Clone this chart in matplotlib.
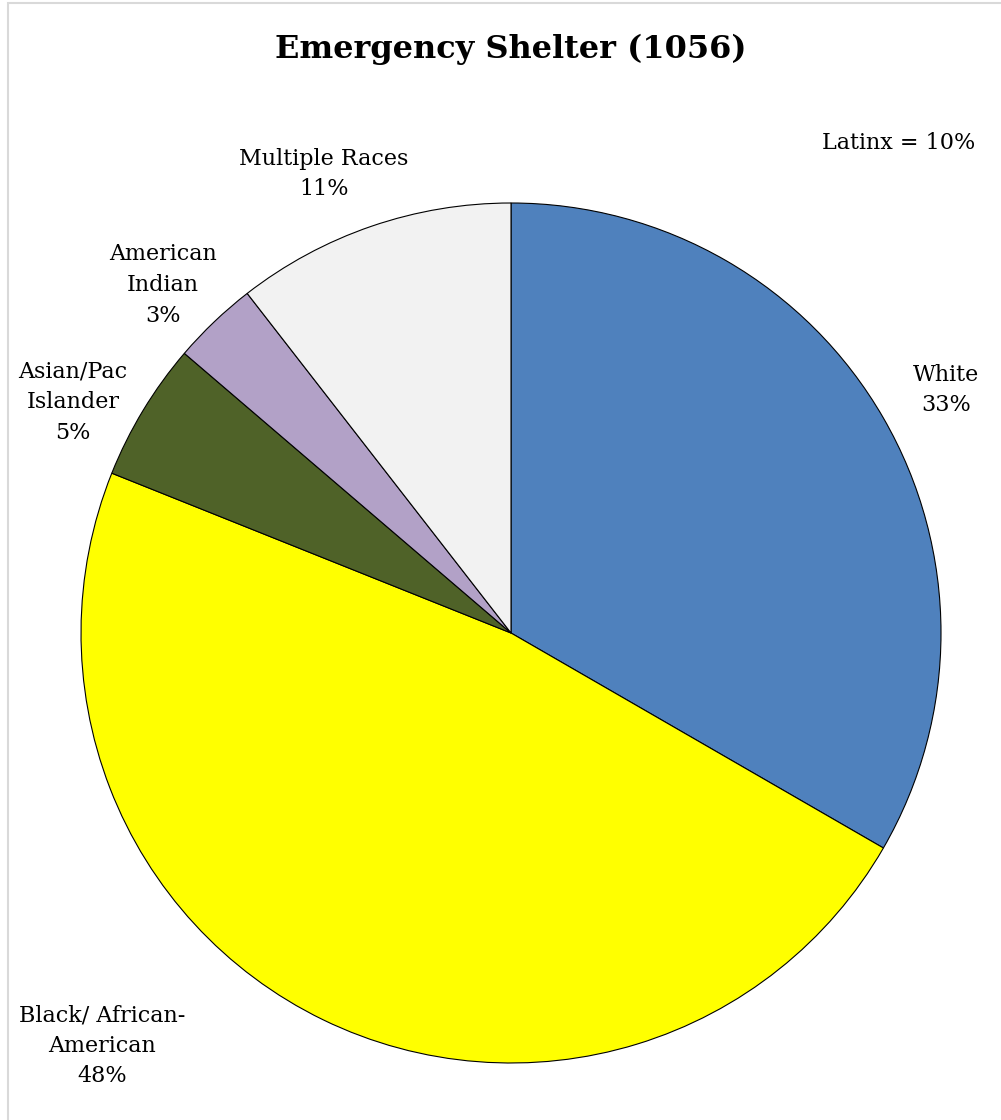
import matplotlib
matplotlib.use("Agg")
import matplotlib.pyplot as plt
from matplotlib.patches import Rectangle

# ---- data ----
categories = ["White", "Black/ African-\nAmerican", "Asian/Pac\nIslander", "American\nIndian", "Multiple Races"]
counts = [352, 504, 55, 34, 111]
colors = ["#4F81BD", "#FFFF00", "#4F6228", "#B2A1C7", "#F2F2F2"]
title = "Emergency Shelter (1056)"
latinx_note = "Latinx = 10%"
# label block centres in pixels (x, y from top)
label_pos = [(946, 390), (102, 1046), (73, 402), (163, 285), (324, 174)]

W, H = 1001, 1120
fig = plt.figure(figsize=(W / 100, H / 100), dpi=100)
fig.patch.set_facecolor("white")

font = "DejaVu Serif"

# chart border
fig.patches.append(Rectangle((8 / W, -0.1), 1.2, (H - 3) / H + 0.1, transform=fig.transFigure,
                             fill=False, edgecolor="#d9d9d9", linewidth=1.5))

cx, cy, r = 511, 633, 430
ax = fig.add_axes([(cx - r) / W, (H - cy - r) / H, 2 * r / W, 2 * r / H])
ax.pie(counts, colors=colors, startangle=90, counterclock=False,
       wedgeprops=dict(edgecolor="black", linewidth=0.8), radius=1.0)
ax.set_xlim(-1, 1)
ax.set_ylim(-1, 1)
ax.set_aspect("equal")
ax.axis("off")

total = sum(counts)
for cat, c, (px, py) in zip(categories, counts, label_pos):
    pct = round(100 * c / total)
    fig.text(px / W, 1 - py / H, f"{cat}\n{pct}%", ha="center", va="center",
             fontsize=16, family=font, linespacing=1.5, color="black")

fig.text(899 / W, 1 - 143 / H, latinx_note, ha="center", va="center", fontsize=16, family=font)
fig.text(511 / W, 1 - 49 / H, title, ha="center", va="center", fontsize=23,
         family=font, fontweight="bold")

fig.savefig("out.png", dpi=100)
